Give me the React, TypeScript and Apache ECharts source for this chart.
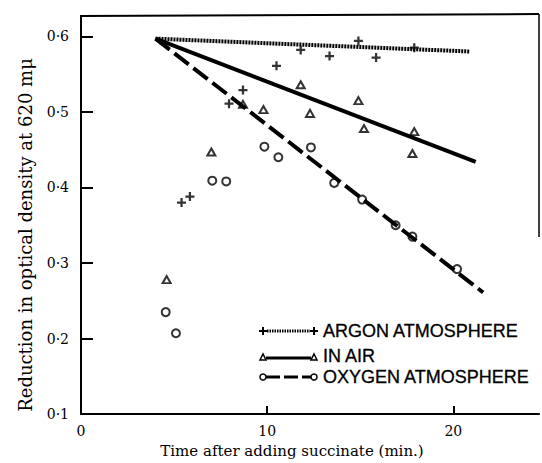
import React, { useEffect, useRef } from "react";
import * as echarts from "echarts";

// Measured points (time in min, reduction in optical density)
const argonX = [5.4, 5.85, 7.95, 8.7, 10.5, 11.8, 13.35, 14.9, 15.85, 17.9];
const argonY = [0.38, 0.388, 0.511, 0.529, 0.561, 0.582, 0.574, 0.594, 0.572, 0.585];

const airX = [4.6, 7.0, 8.7, 9.8, 11.8, 12.3, 14.9, 15.2, 17.9, 17.8];
const airY = [0.278, 0.447, 0.51, 0.503, 0.536, 0.498, 0.515, 0.478, 0.474, 0.445];

const oxyX = [4.55, 5.1, 7.05, 7.8, 9.85, 10.6, 12.35, 13.6, 15.1, 16.9, 17.8, 20.2];
const oxyY = [0.235, 0.207, 0.409, 0.408, 0.454, 0.44, 0.453, 0.406, 0.384, 0.35, 0.335, 0.292];

// Fitted lines (start / end)
const argonFitX = [4.0, 20.9];
const argonFitY = [0.597, 0.58];
const airFitX = [4.0, 21.2];
const airFitY = [0.597, 0.434];
const oxyFitX = [4.0, 21.6];
const oxyFitY = [0.597, 0.261];

const legendLabels = ["ARGON ATMOSPHERE", "IN AIR", "OXYGEN ATMOSPHERE"];
const xTitle = "Time after adding succinate (min.)";
const yTitle = "Reduction in optical density at 620 m\u03bc";

const zip = (xs: number[], ys: number[]) => xs.map((x, i) => [x, ys[i]]);

const PLUS = "path://M-1,-4H1V-1H4V1H1V4H-1V1H-4V-1H-1Z";
const SERIF = "'DejaVu Serif', serif";
const SANS = "'Liberation Sans', Arial, sans-serif";

export default function App() {
  const ref = useRef<HTMLDivElement>(null);
  useEffect(() => {
    if (!ref.current) return;
    const chart = echarts.init(ref.current, null, { renderer: "svg" });
    const lx0 = 263;
    const lx1 = 314;
    const rows = [331, 356, 377];
    const legendGraphics: any[] = [];
    // Argon legend: + dotted +
    legendGraphics.push(
      { type: "line", shape: { x1: lx0 + 4, y1: rows[0], x2: lx1 - 4, y2: rows[0] }, style: { stroke: "#000", lineWidth: 3, lineDash: [1.5, 1] } },
      { type: "line", shape: { x1: lx0 - 4, y1: rows[0], x2: lx0 + 4, y2: rows[0] }, style: { stroke: "#000", lineWidth: 2 } },
      { type: "line", shape: { x1: lx0, y1: rows[0] - 4, x2: lx0, y2: rows[0] + 4 }, style: { stroke: "#000", lineWidth: 2 } },
      { type: "line", shape: { x1: lx1 - 4, y1: rows[0], x2: lx1 + 4, y2: rows[0] }, style: { stroke: "#000", lineWidth: 2 } },
      { type: "line", shape: { x1: lx1, y1: rows[0] - 4, x2: lx1, y2: rows[0] + 4 }, style: { stroke: "#000", lineWidth: 2 } }
    );
    // Air legend: triangle solid triangle
    legendGraphics.push(
      { type: "line", shape: { x1: lx0 + 3, y1: rows[1] + 2, x2: lx1 - 3, y2: rows[1] + 2 }, style: { stroke: "#000", lineWidth: 3 } },
      { type: "polygon", shape: { points: [[lx0 - 3, rows[1] + 4], [lx0 + 3, rows[1] + 4], [lx0, rows[1] - 2]] }, style: { stroke: "#000", fill: "#fff", lineWidth: 1.5 } },
      { type: "polygon", shape: { points: [[lx1 - 3, rows[1] + 4], [lx1 + 3, rows[1] + 4], [lx1, rows[1] - 2]] }, style: { stroke: "#000", fill: "#fff", lineWidth: 1.5 } }
    );
    // Oxygen legend: circle dashed circle
    legendGraphics.push(
      { type: "line", shape: { x1: lx0 + 3, y1: rows[2], x2: lx1 - 3, y2: rows[2] }, style: { stroke: "#000", lineWidth: 3, lineDash: [14, 4] } },
      { type: "circle", shape: { cx: lx0, cy: rows[2], r: 3 }, style: { stroke: "#000", fill: "#fff", lineWidth: 1.5 } },
      { type: "circle", shape: { cx: lx1, cy: rows[2], r: 3 }, style: { stroke: "#000", fill: "#fff", lineWidth: 1.5 } }
    );
    legendLabels.forEach((t, i) => {
      legendGraphics.push({
        type: "text",
        x: 323,
        y: rows[i],
        style: { text: t, fill: "#000", font: `18px ${SANS}`, textVerticalAlign: "middle", textAlign: "left", stroke: "#000", lineWidth: 0.3 },
      });
    });

    chart.setOption({
      animation: false,
      backgroundColor: "#fff",
      grid: { left: 81, right: 3, top: 16, bottom: 48, containLabel: false },
      xAxis: {
        type: "value",
        min: 0,
        max: 24.6,
        interval: 10,
        name: xTitle,
        nameLocation: "middle",
        nameGap: 27,
        nameTextStyle: { color: "#000", fontFamily: SERIF, fontSize: 15, padding: [0, 36, 0, 0] },
        axisLine: { show: true, lineStyle: { color: "#000", width: 2 } },
        axisTick: { show: true, inside: true, length: 8, lineStyle: { color: "#000", width: 2 } },
        axisLabel: { color: "#000", fontFamily: SERIF, fontSize: 14, margin: 10, showMaxLabel: false },
        splitLine: { show: false },
      },
      yAxis: {
        type: "value",
        min: 0.1,
        max: 0.627,
        interval: 0.1,
        axisLine: { show: true, lineStyle: { color: "#000", width: 2 } },
        axisTick: { show: true, inside: true, length: 12, lineStyle: { color: "#000", width: 2 } },
        axisLabel: {
          color: "#000",
          fontFamily: SERIF,
          fontSize: 14,
          margin: 12,
          showMaxLabel: false,
          formatter: (v: number) => v.toFixed(1).replace(".", "\u00b7"),
        },
        splitLine: { show: false },
      },
      graphic: [
        { type: "line", shape: { x1: 80, y1: 16, x2: 539, y2: 14 }, style: { stroke: "#000", lineWidth: 2 } },
        { type: "line", shape: { x1: 539, y1: 14, x2: 539, y2: 237 }, style: { stroke: "#000", lineWidth: 1.5 } },
        {
          type: "text",
          x: 25,
          y: 235,
          rotation: Math.PI / 2,
          style: { text: yTitle, fill: "#000", font: `18px ${SERIF}`, textAlign: "center", textVerticalAlign: "middle" },
        },
        ...legendGraphics,
      ],
      series: [
        {
          name: "ARGON ATMOSPHERE fit",
          type: "line",
          data: zip(argonFitX, argonFitY),
          symbol: "none",
          lineStyle: { color: "#000", width: 4, type: [2, 1] },
        },
        {
          name: "IN AIR fit",
          type: "line",
          data: zip(airFitX, airFitY),
          symbol: "none",
          lineStyle: { color: "#000", width: 4 },
        },
        {
          name: "OXYGEN ATMOSPHERE fit",
          type: "line",
          data: zip(oxyFitX, oxyFitY),
          symbol: "none",
          lineStyle: { color: "#000", width: 4, type: [18, 6] },
        },
        {
          name: "ARGON ATMOSPHERE",
          type: "scatter",
          data: zip(argonX, argonY),
          symbol: PLUS,
          symbolSize: 9,
          itemStyle: { color: "#000" },
        },
        {
          name: "IN AIR",
          type: "scatter",
          data: zip(airX, airY),
          symbol: "triangle",
          symbolSize: [8, 7],
          itemStyle: { color: "#fff", borderColor: "#000", borderWidth: 2 },
        },
        {
          name: "OXYGEN ATMOSPHERE",
          type: "scatter",
          data: zip(oxyX, oxyY),
          symbol: "circle",
          symbolSize: 8,
          itemStyle: { color: "#fff", borderColor: "#000", borderWidth: 2 },
        },
      ],
    });
    return () => chart.dispose();
  }, []);
  return <div ref={ref} style={{ width: 542, height: 463, position: "absolute", left: 0, top: 0 }} />;
}
